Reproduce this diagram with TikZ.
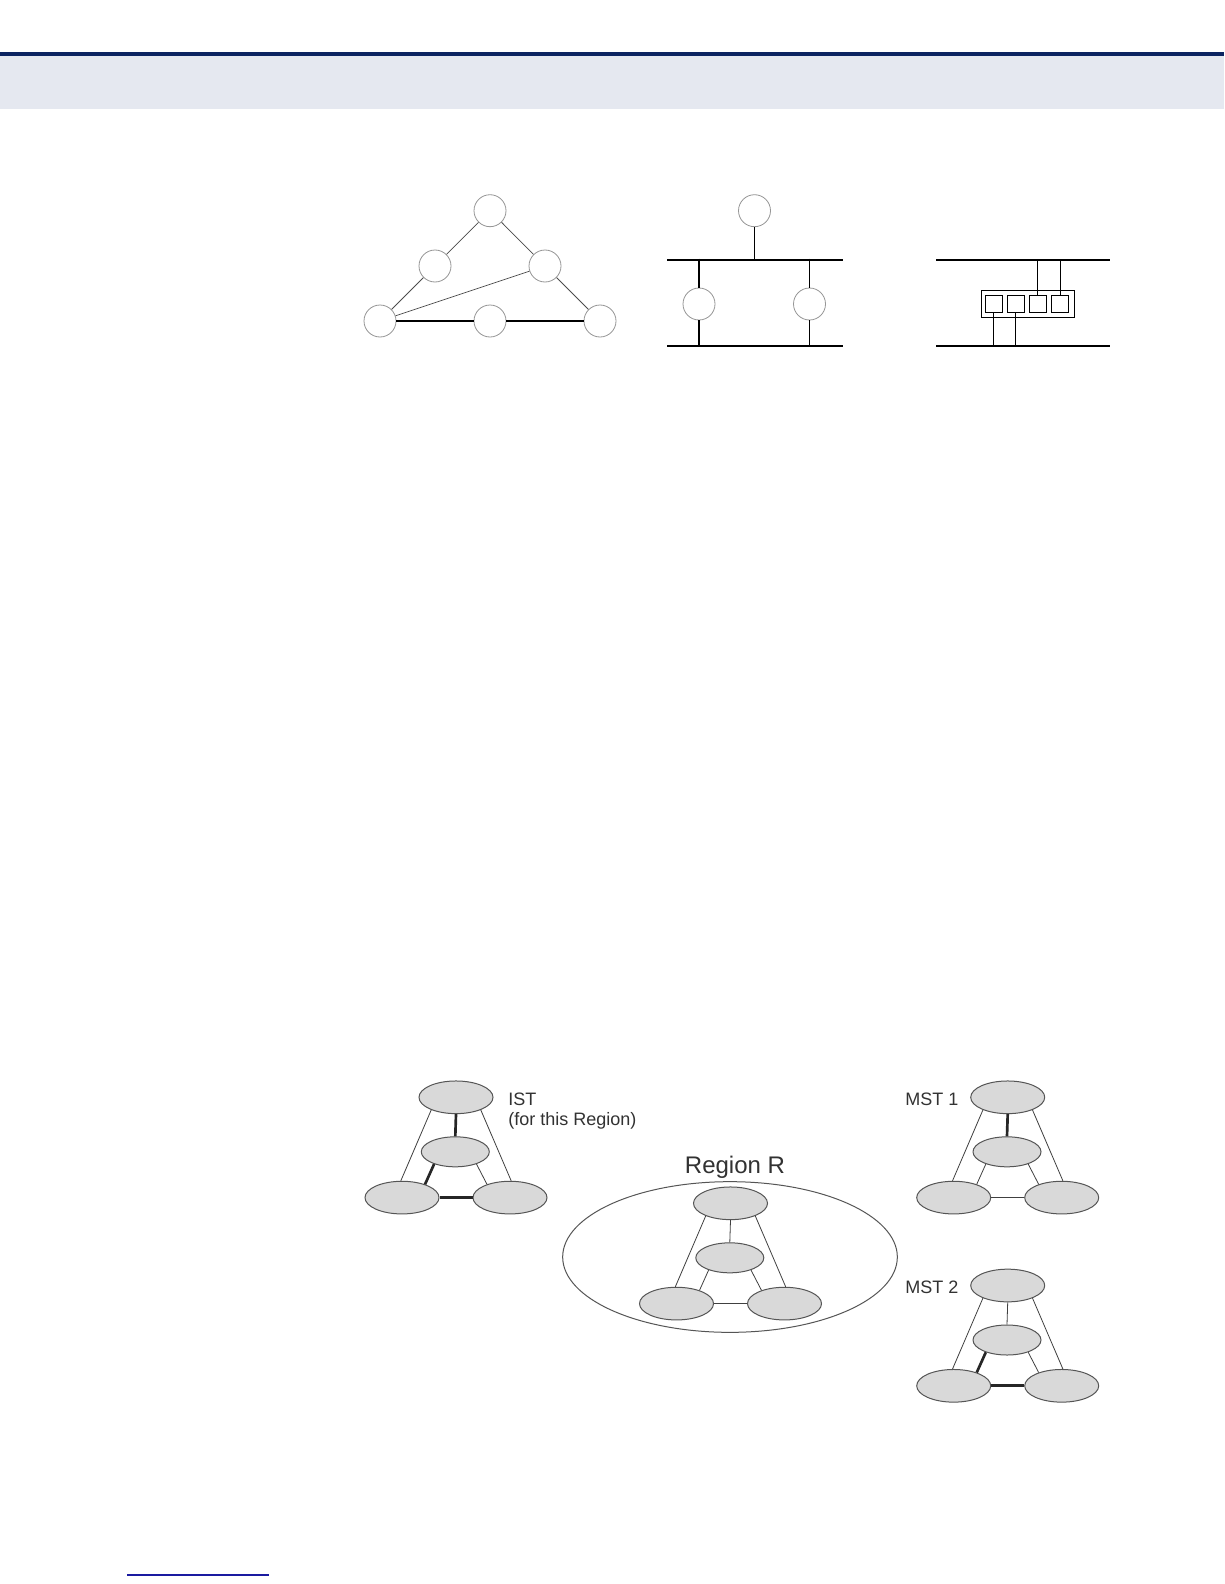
\documentclass[tikz,border=0pt]{standalone}
\usepackage{fontspec}
\setmainfont{Liberation Sans}
\usetikzlibrary{shapes.geometric}
\definecolor{navy}{RGB}{12,36,97}
\definecolor{band}{RGB}{229,232,240}
\definecolor{linkblue}{RGB}{26,26,160}
\definecolor{ellfill}{RGB}{217,217,217}
\definecolor{ellline}{RGB}{85,85,85}
\definecolor{txt}{RGB}{50,50,50}
\definecolor{circline}{RGB}{150,150,150}

\newcommand\mstgroup[3]{%
  \begin{scope}[shift={(#2,#3)}]
    \node[bigell] (#1-t) at (0,0) {};
    \node[midell] (#1-m) at (-0.7,54.5) {};
    \node[bigell] (#1-l) at (-54,100.3) {};
    \node[bigell] (#1-r) at (54,100.3) {};
  \end{scope}}
\newcommand\mstedges[5]{%
  \draw[thinedge] (#1-t.207) -- (#1-l.94);
  \draw[thinedge] (#1-t.333) -- (#1-r.86);
  \draw[#2] (#1-t.south) -- (#1-m.north);
  \draw[#3] (#1-m.210) -- (#1-l.30);
  \draw[#4] (#1-m.330) -- (#1-r.150);
  \draw[#5] (#1-l.east) -- (#1-r.west);}

\begin{document}
\begin{tikzpicture}[x=0.75pt,y=-0.75pt,
  bigell/.style={ellipse,draw=ellline,fill=ellfill,line width=0.75pt,inner sep=0pt,minimum width=55.5pt,minimum height=24.5pt},
  midell/.style={ellipse,draw=ellline,fill=ellfill,line width=0.75pt,inner sep=0pt,minimum width=51pt,minimum height=22.5pt},
  thinedge/.style={draw=black!75,line width=0.6pt},
  thickedge/.style={draw=black!85,line width=2pt},
  circ/.style={circle,draw=circline,line width=0.6pt,minimum size=24pt,inner sep=0pt},
  gline/.style={draw=black!70,line width=0.55pt},
  bline/.style={draw=black,line width=1.1pt},
  blk/.style={draw=black,line width=0.8pt,inner sep=0pt},
  lbl/.style={text=txt,inner sep=0pt,font=\fontsize{13.5pt}{15pt}\selectfont}]
\useasboundingbox (0,0) rectangle (1224,1584);
\fill[white] (0,0) rectangle (1224,1584);
% header
\fill[navy] (0,52) rectangle (1224,56);
\fill[band] (0,56) rectangle (1224,109);

% ---- triangle of circles
\node[circ] (a1) at (490,210.7) {};
\node[circ] (a2) at (435,266) {};
\node[circ] (a3) at (545,266) {};
\node[circ] (a4) at (380,321) {};
\node[circ] (a5) at (490,321) {};
\node[circ] (a6) at (600,321) {};
\draw[gline] (a1) -- (a2);
\draw[gline] (a1) -- (a3);
\draw[gline] (a2) -- (a4);
\draw[gline] (a3) -- (a6);
\draw[gline] (a4) -- (a3);
\draw[bline,line width=1pt] (a4) -- (a5);
\draw[bline,line width=1pt] (a5) -- (a6);

% ---- bus with circles
\coordinate (b1l) at (667,260);
\coordinate (b1r) at (843,260);
\coordinate (b2l) at (667,346);
\coordinate (b2r) at (843,346);
\draw[bline] (b1l) -- (b1r);
\draw[bline] (b2l) -- (b2r);
\node[circ] (c1) at (754.5,210.7) {};
\node[circ] (c2) at (699,304) {};
\node[circ] (c3) at (809.5,304) {};
\coordinate (c1b) at (754.5,260);
\coordinate (c2t) at (699,258.7);
\coordinate (c2b) at (699,346);
\coordinate (c3t) at (809.5,258.7);
\coordinate (c3b) at (809.5,346);
\draw[bline] (c1) -- (c1b);
\draw[bline] (c2t) -- (c2);
\draw[bline] (c2) -- (c2b);
\draw[bline] (c3t) -- (c3);
\draw[bline] (c3) -- (c3b);

% ---- bus with switch box
\coordinate (d1l) at (936,260);
\coordinate (d1r) at (1110,260);
\coordinate (d2l) at (936,346);
\coordinate (d2r) at (1110,346);
\draw[bline] (d1l) -- (d1r);
\draw[bline] (d2l) -- (d2r);
\node[blk,minimum width=70pt,minimum height=20.5pt] (box) at (1027.7,303.7) {};
\node[blk,minimum width=12.75pt,minimum height=13pt] (p1) at (993.7,303.7) {};
\node[blk,minimum width=12.75pt,minimum height=13pt] (p2) at (1015.7,303.7) {};
\node[blk,minimum width=12.75pt,minimum height=13pt] (p3) at (1037.8,303.7) {};
\node[blk,minimum width=12.75pt,minimum height=13pt] (p4) at (1060.2,303.7) {};
\coordinate (p3u) at (1037.8,260);
\coordinate (p4u) at (1060.2,260);
\coordinate (p1d) at (993.7,346);
\coordinate (p2d) at (1015.7,346);
\draw[bline,line width=0.9pt] (p3.north) -- (p3u);
\draw[bline,line width=0.9pt] (p4.north) -- (p4u);
\draw[bline,line width=0.9pt] (p1.south) -- (p1d);
\draw[bline,line width=0.9pt] (p2.south) -- (p2d);

% ---- MST figure
\node[ellipse,draw=ellline,line width=0.75pt,minimum width=251pt,minimum height=113pt,inner sep=0pt] (regR) at (730,1257) {};
\mstgroup{ist}{456}{1097.3}
\mstgroup{mst1}{1007.7}{1097.3}
\mstgroup{reg}{730.5}{1203.3}
\mstgroup{mst2}{1007.7}{1285.5}
\mstedges{ist}{thickedge}{thickedge}{thinedge}{thickedge}
\mstedges{mst1}{thickedge}{thinedge}{thinedge}{thinedge}
\mstedges{reg}{thinedge}{thinedge}{thinedge}{thinedge}
\mstedges{mst2}{thinedge}{thickedge}{thinedge}{thickedge}

\node[lbl,anchor=north west,align=left] (istlbl) at (508,1093) {IST\\(for this Region)};
\node[lbl,anchor=base,font=\fontsize{18pt}{20pt}\selectfont] (reglbl) at (735,1173) {Region R};
\node[lbl,anchor=base west] (mst1lbl) at (905,1105.7) {MST 1};
\node[lbl,anchor=base west] (mst2lbl) at (905,1293) {MST 2};

% footer link underline
\draw[linkblue,line width=1.1pt] (127,1575) -- (269,1575);
\end{tikzpicture}
\end{document}
